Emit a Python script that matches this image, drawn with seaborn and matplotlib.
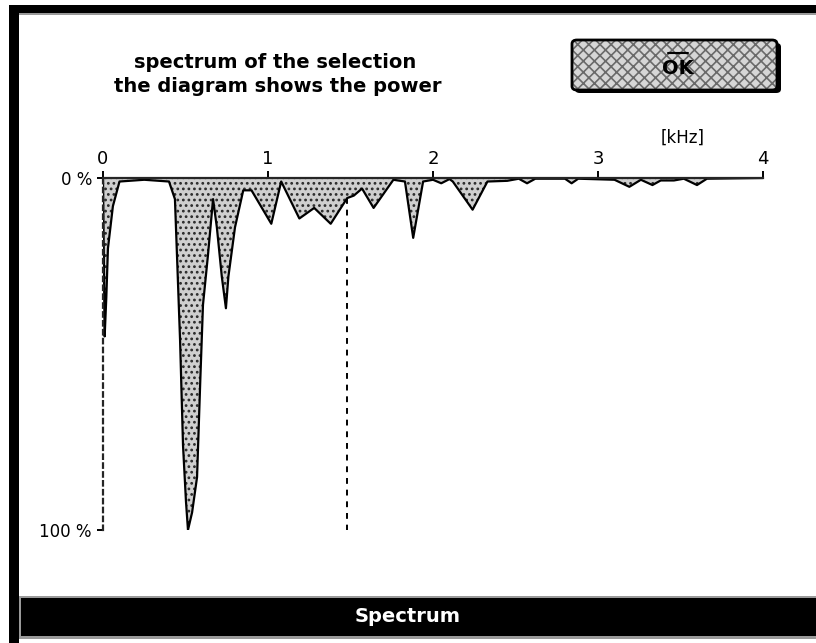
import numpy as np
import pandas as pd
import matplotlib
matplotlib.use("Agg")
import matplotlib.pyplot as plt
from matplotlib.patches import Rectangle, FancyBboxPatch
import seaborn as sns

# spectrum values (kHz, power in %)
freq_khz = [0.0, 0.01, 0.02, 0.03, 0.06, 0.1, 0.25, 0.4, 0.436, 0.467, 0.485, 0.503, 0.515,
            0.54, 0.57, 0.59, 0.606, 0.636, 0.667, 0.69, 0.72, 0.745, 0.76, 0.8, 0.85, 0.9,
            1.02, 1.08, 1.19, 1.28, 1.38, 1.48, 1.52, 1.57, 1.64, 1.76, 1.83, 1.88, 1.94,
            2.0, 2.05, 2.1, 2.12, 2.24, 2.33, 2.45, 2.52, 2.57, 2.62, 2.8, 2.84, 2.88, 3.1,
            3.19, 3.26, 3.33, 3.38, 3.46, 3.52, 3.6, 3.66, 4.0]
power_pct = [0, 45, 34, 20, 8, 1, 0.5, 1, 6, 46, 76, 92, 100,
             95, 85, 57, 36, 22, 6, 14, 28, 37, 28, 14, 3.5, 3.5,
             13, 1, 11.5, 8.5, 13, 5.7, 5, 3, 8.5, 0.5, 1, 17, 1,
             0.5, 1.5, 0.3, 1, 9, 1, 0.8, 0.2, 1.5, 0.2, 0.2, 1.5, 0.2, 0.5,
             2.5, 0.5, 2, 0.7, 0.7, 0.2, 2, 0.2, 0]
selection_khz = 1.48
selection_pct = 5.7

x_ticks = [0, 1, 2, 3, 4]
x_tick_labels = ["0", "1", "2", "3", "4"]
y_ticks = [0, 100]
y_tick_labels = ["0 %", "100 %"]

title_lines = ["spectrum of the selection", "the diagram shows the power"]
window_title = "Spectrum"
unit_label = "[kHz]"

df = pd.DataFrame({"freq": freq_khz, "power": power_pct})

sns.set_style("white")
plt.rcParams["font.family"] = ["DejaVu Sans"]
plt.rcParams["text.color"] = "black"
plt.rcParams["xtick.color"] = "black"
plt.rcParams["ytick.color"] = "black"
plt.rcParams["hatch.linewidth"] = 1.2

W, H = 816, 643
fig = plt.figure(figsize=(W / 100, H / 100), dpi=100)


def px_rect(x0, y0, x1, y1, **kw):
    # rectangle in pixel coords (y measured from top)
    r = Rectangle((x0 / W, 1 - y1 / H), (x1 - x0) / W, (y1 - y0) / H,
                  transform=fig.transFigure, **kw)
    fig.patches.append(r)
    return r


# window frame
px_rect(9, 5, 19, 643, facecolor="black", edgecolor="none")
px_rect(9, 5, 816, 13, facecolor="black", edgecolor="none")
px_rect(19, 13, 816, 15, facecolor="#9a9a9a", edgecolor="none")
px_rect(19, 596, 816, 639, facecolor="#9a9a9a", edgecolor="none")
px_rect(21, 598, 816, 636, facecolor="black", edgecolor="none")
fig.text(408 / W, 1 - 617 / H, window_title, color="white", fontsize=14,
         fontweight="bold", ha="center", va="center")

# header text
fig.text(275 / W, 1 - 62 / H, title_lines[0], fontsize=14, fontweight="bold",
         ha="center", va="center")
fig.text(278 / W, 1 - 87 / H, title_lines[1], fontsize=14, fontweight="bold",
         ha="center", va="center")

# OK button
box = dict(boxstyle="round,pad=0,rounding_size=0.006", transform=fig.transFigure)
fig.patches.append(FancyBboxPatch((575 / W, 1 - 93 / H), 206 / W, 50 / H,
                                  facecolor="black", edgecolor="none", **box))
fig.patches.append(FancyBboxPatch((572 / W, 1 - 90 / H), 205 / W, 50 / H,
                                  facecolor="#d6d6d6", edgecolor="#6a6a6a",
                                  linewidth=0, hatch="xxx", **box))
fig.patches.append(FancyBboxPatch((572 / W, 1 - 90 / H), 205 / W, 50 / H,
                                  facecolor="none", edgecolor="black", linewidth=2, **box))
fig.text(678 / W, 1 - 68 / H, "OK", fontsize=14, fontweight="bold",
         ha="center", va="center", zorder=5)
fig.lines.append(plt.Line2D([668 / W, 688 / W], [1 - 53 / H, 1 - 53 / H],
                            transform=fig.transFigure, color="black", linewidth=1.5))

# plot area: 0 kHz at x=103, 4 kHz at x=763, 0 % at y=178, 100 % at y=530
ax = fig.add_axes([103 / W, 1 - 530 / H, 660 / W, 352 / H])
ax.set_xlim(0, 4)
ax.set_ylim(100, 0)
ax.patch.set_alpha(0)

ax.fill_between(df["freq"], 0, df["power"], facecolor="#cfcfcf", edgecolor="#2a2a2a",
                hatch="...", linewidth=0)
sns.lineplot(data=df, x="freq", y="power", ax=ax, color="black", linewidth=1.6,
             sort=False, estimator=None)
ax.vlines(selection_khz, selection_pct, 100, colors="black", linestyles=(0, (3, 3)),
          linewidth=1.4)

for s in ["right", "bottom"]:
    ax.spines[s].set_visible(False)
ax.spines["top"].set_linewidth(1.6)
ax.spines["left"].set_linewidth(1.6)
ax.spines["left"].set_linestyle((0, (2, 2)))

ax.xaxis.tick_top()
ax.set_xticks(x_ticks)
ax.set_xticklabels(x_tick_labels, fontsize=13)
ax.tick_params(axis="x", direction="out", length=5, width=1.4, pad=2, top=True)
ax.set_yticks(y_ticks)
ax.set_yticklabels(y_tick_labels, fontsize=12)
ax.tick_params(axis="y", direction="out", length=4, width=1.4, pad=4, left=True)
ax.set_xlabel("")
ax.set_ylabel("")
fig.text(683 / W, 1 - 138 / H, unit_label, fontsize=12, ha="center", va="center")

fig.savefig("out.png", dpi=100)
